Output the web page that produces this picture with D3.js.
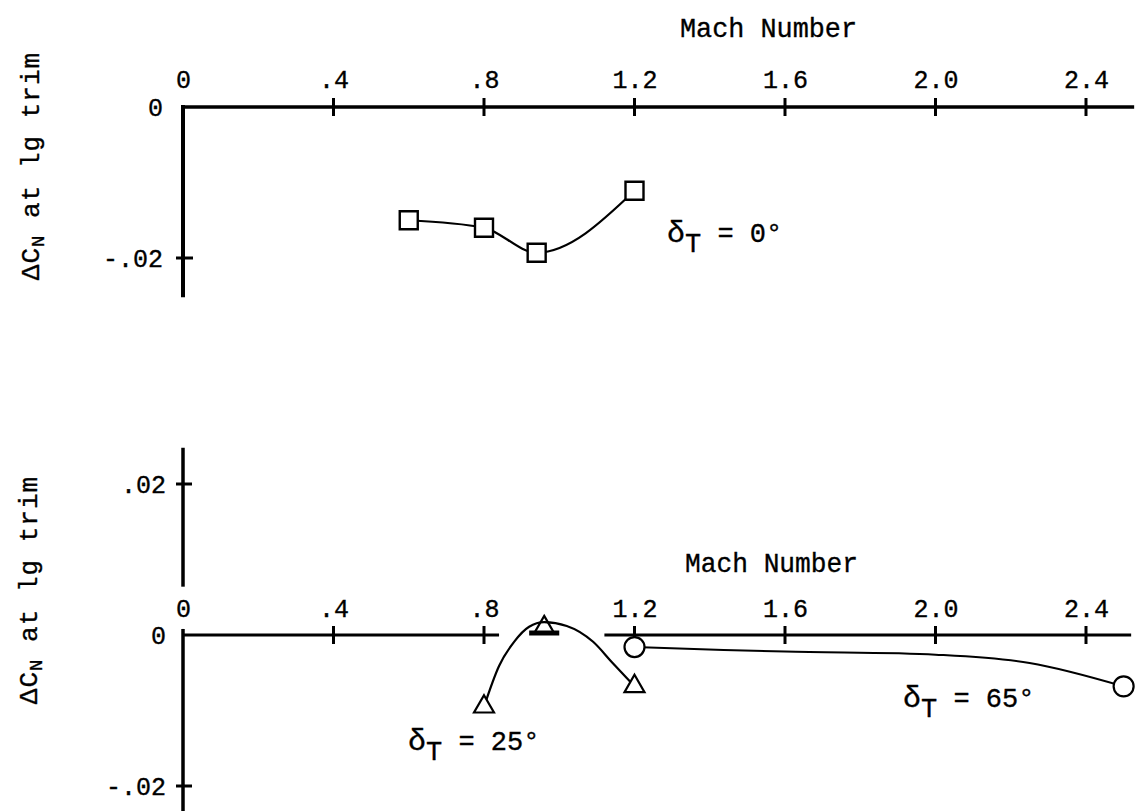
<!DOCTYPE html>
<html>
<head>
<meta charset="utf-8">
<script src="https://cdn.jsdelivr.net/npm/d3@7"></script>
<style>
  body { margin: 0; background: #fff; }
  svg text { font-family: "Liberation Mono", "DejaVu Sans Mono", monospace; fill: #000; stroke: #000; stroke-width: 0.35px; }
</style>
</head>
<body>
<svg id="chart" width="1135" height="811"></svg>
<script>
// Axis ticks and labels
const machTicks = [0, 0.4, 0.8, 1.2, 1.6, 2.0, 2.4];
const machTickLabels = ["0", ".4", ".8", "1.2", "1.6", "2.0", "2.4"];
const topCnTicks = [0, -0.02];
const topCnTickLabels = ["0", "-.02"];
const botCnTicks = [0.02, 0, -0.02];
const botCnTickLabels = [".02", "0", "-.02"];

// δT = 0° (upper panel)
const mach0 = [0.60, 0.80, 0.94, 1.20];
const dcn0 = [-0.0150, -0.0160, -0.0193, -0.0111];

// δT = 25° (lower panel): test points and faired curve
const mach25 = [0.80, 0.96, 1.20];
const dcn25 = [-0.0095, 0.0010, -0.0068];
const fair25Mach = [0.80, 0.84, 0.88, 0.92, 0.96, 1.02, 1.09, 1.14, 1.20];
const fair25Dcn = [-0.0095, -0.0041, -0.0009, 0.0011, 0.0017, 0.0012, -0.0009, -0.0036, -0.0068];

// δT = 65° (lower panel): test points and faired curve
const mach65 = [1.20, 2.50];
const dcn65 = [-0.0016, -0.0068];
const fair65Mach = [1.20, 1.60, 2.00, 2.25, 2.50];
const fair65Dcn = [-0.0016, -0.0022, -0.0026, -0.0037, -0.0068];

const svg = d3.select("#chart");
const zip = (xs, ys) => xs.map((v, i) => [v, ys[i]]);

const x = d3.scaleLinear().domain([0, 2.4]).range([183, 1086]);
const yTop = d3.scaleLinear().domain([0, -0.02]).range([107, 258]);
const yBot = d3.scaleLinear().domain([0.02, -0.02]).range([484, 786]);

function tickLabels(g) {
  g.select(".domain").remove();
  g.selectAll(".tick line").remove();
  g.selectAll(".tick text").style("font-size", "25px").attr("fill", "#000");
}

function seg(g, x1, y1, x2, y2, w) {
  g.append("line").attr("x1", x1).attr("y1", y1).attr("x2", x2).attr("y2", y2)
    .attr("stroke", "#000").attr("stroke-width", w).attr("stroke-linecap", "butt");
}

function axisTitle(yPos, xStart, xEnd) {
  svg.append("text").attr("x", xStart).attr("y", yPos)
    .attr("textLength", xEnd - xStart).attr("lengthAdjust", "spacingAndGlyphs")
    .style("font-size", "28px").text("Mach Number");
}

function yTitle(tx, ty) {
  const t = svg.append("text")
    .attr("transform", `translate(${tx},${ty}) rotate(-90)`)
    .attr("text-anchor", "middle")
    .style("font-size", "26px")
    .style("letter-spacing", "1px");
  t.append("tspan").text("ΔC");
  t.append("tspan").attr("dy", 5).style("font-size", "19px").text("N");
  t.append("tspan").attr("dy", -5).text(" at lg trim");
}

function deltaLabel(lx, ly, value) {
  const t = svg.append("text").attr("x", lx).attr("y", ly).style("font-size", "27px");
  t.append("tspan").style("font-size", "30px").text("δ");
  t.append("tspan").attr("dy", 10).text("T");
  t.append("tspan").attr("dy", -10).text(` = ${value}°`);
}

// ---------------- Upper panel ----------------
const gTop = svg.append("g");
seg(gTop, x(0) - 2, yTop(0), x(2.528), yTop(0), 3.5);
seg(gTop, x(0), yTop(0) - 2, x(0), yTop(-0.0252), 4);
machTicks.slice(1).forEach(m => seg(gTop, x(m), yTop(0) - 9, x(m), yTop(0) + 9, 3));
seg(gTop, x(0) - 7, yTop(-0.02), x(0) + 10, yTop(-0.02), 3);

gTop.append("g").attr("transform", `translate(0,${yTop(0)})`)
  .call(d3.axisTop(x).tickValues(machTicks).tickFormat((d, i) => machTickLabels[i])
    .tickSize(0).tickPadding(19))
  .call(tickLabels);
gTop.append("g").attr("transform", `translate(${x(0)},0)`)
  .call(d3.axisLeft(yTop).tickValues(topCnTicks).tickFormat((d, i) => topCnTickLabels[i])
    .tickSize(0).tickPadding(20))
  .call(tickLabels);

axisTitle(37, 680, 857);
yTitle(39, 166);

const monotone = d3.line().x(d => x(d[0])).curve(d3.curveMonotoneX);
const faired = d3.line().x(d => x(d[0])).curve(d3.curveCatmullRom.alpha(0.5));

gTop.append("path")
  .attr("d", monotone.y(d => yTop(d[1]))(zip(mach0, dcn0)))
  .attr("fill", "none").attr("stroke", "#000").attr("stroke-width", 2.2);

gTop.selectAll(".sq").data(zip(mach0, dcn0)).join("path")
  .attr("transform", d => `translate(${x(d[0])},${yTop(d[1])})`)
  .attr("d", d3.symbol().type(d3.symbolSquare).size(324))
  .attr("fill", "#fff").attr("stroke", "#000").attr("stroke-width", 2.4);

deltaLabel(667, 242, "0");

// ---------------- Lower panel ----------------
const gBot = svg.append("g");
seg(gBot, x(0) - 1, yBot(0), x(0.84), yBot(0), 3);
seg(gBot, x(1.12), yBot(0), x(2.52), yBot(0), 3);
seg(gBot, x(0), yBot(0.0248), x(0), yBot(0.0064), 3.5);
seg(gBot, x(0), yBot(0.0008), x(0), yBot(-0.0240), 3.5);
machTicks.slice(1).forEach(m => seg(gBot, x(m), yBot(0) - 9, x(m), yBot(0) + 9, 3));
[0.02, -0.02].forEach(c => seg(gBot, x(0) - 7, yBot(c), x(0) + 9, yBot(c), 3));

gBot.append("g").attr("transform", `translate(0,${yBot(0)})`)
  .call(d3.axisTop(x).tickValues(machTicks).tickFormat((d, i) => machTickLabels[i])
    .tickSize(0).tickPadding(18))
  .call(tickLabels);
gBot.append("g").attr("transform", `translate(${x(0)},0)`)
  .call(d3.axisLeft(yBot).tickValues(botCnTicks).tickFormat((d, i) => botCnTickLabels[i])
    .tickSize(0).tickPadding(17))
  .call(tickLabels);

axisTitle(572, 685, 858);
yTitle(37, 590);

gBot.append("path")
  .attr("d", monotone.y(d => yBot(d[1]))(zip(fair25Mach, fair25Dcn)))
  .attr("fill", "none").attr("stroke", "#000").attr("stroke-width", 2.2);
gBot.append("path")
  .attr("d", faired.y(d => yBot(d[1]))(zip(fair65Mach, fair65Dcn)))
  .attr("fill", "none").attr("stroke", "#000").attr("stroke-width", 2);

// short axis piece under the peak triangle
seg(gBot, x(0.92), yBot(0) - 2, x(1.0), yBot(0) - 2, 5);

gBot.selectAll(".tri").data(zip(mach25, dcn25)).join("path")
  .attr("transform", d => `translate(${x(d[0])},${yBot(d[1])})`)
  .attr("d", d3.symbol().type(d3.symbolTriangle).size(173))
  .attr("fill", d => d[1] > 0 ? "none" : "#fff")
  .attr("stroke", "#000").attr("stroke-width", 2.2);

gBot.selectAll(".circ").data(zip(mach65, dcn65)).join("circle")
  .attr("cx", d => x(d[0])).attr("cy", d => yBot(d[1])).attr("r", 10)
  .attr("fill", "#fff").attr("stroke", "#000").attr("stroke-width", 2.2);

deltaLabel(408, 750, "25");
deltaLabel(903, 707, "65");
</script>
</body>
</html>
